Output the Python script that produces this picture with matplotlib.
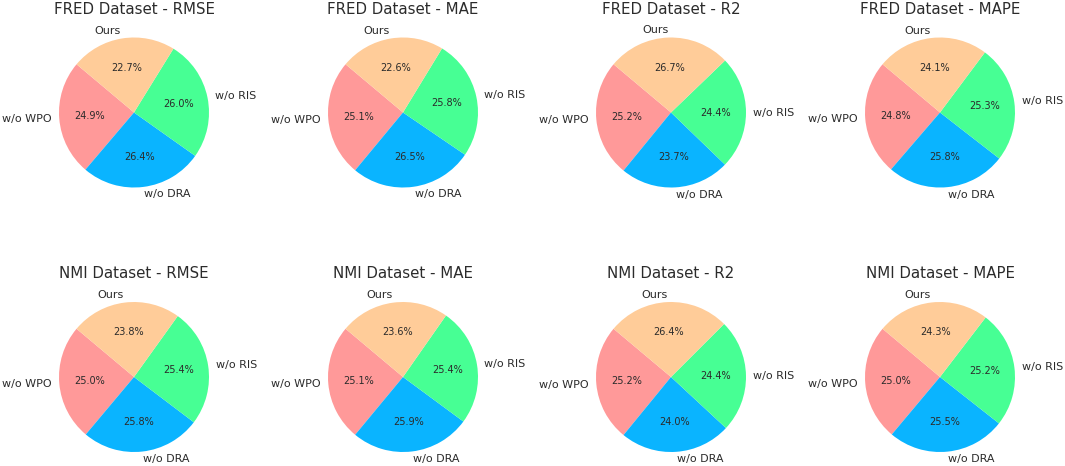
import matplotlib
matplotlib.use("Agg")
import matplotlib.pyplot as plt

labels = ["w/o WPO", "w/o DRA", "w/o RIS", "Ours"]
colors = ["#ff9999", "#0ab4ff", "#47ff94", "#ffcc99"]

datasets = ["FRED", "NMI"]
metrics = ["RMSE", "MAE", "R2", "MAPE"]

fred_rmse = [24.9, 26.4, 26.0, 22.7]
fred_mae = [25.1, 26.5, 25.8, 22.6]
fred_r2 = [25.2, 23.7, 24.4, 26.7]
fred_mape = [24.8, 25.8, 25.3, 24.1]
nmi_rmse = [25.0, 25.8, 25.4, 23.8]
nmi_mae = [25.1, 25.9, 25.4, 23.6]
nmi_r2 = [25.2, 24.0, 24.4, 26.4]
nmi_mape = [25.0, 25.5, 25.2, 24.3]

values = {
    ("FRED", "RMSE"): fred_rmse, ("FRED", "MAE"): fred_mae,
    ("FRED", "R2"): fred_r2, ("FRED", "MAPE"): fred_mape,
    ("NMI", "RMSE"): nmi_rmse, ("NMI", "MAE"): nmi_mae,
    ("NMI", "R2"): nmi_r2, ("NMI", "MAPE"): nmi_mape,
}

W, H = 1065, 466
fig = plt.figure(figsize=(W / 100, H / 100), dpi=100)
text_color = "#2b2b2b"

col_centers = [134, 403, 671, 940]
row_centers = [112.5, 377]
r_px = 75
half = 1.25 * r_px

for i, ds in enumerate(datasets):
    for j, m in enumerate(metrics):
        cx, cy = col_centers[j], row_centers[i]
        ax = fig.add_axes([(cx - half) / W, 1 - (cy + half) / H, 2 * half / W, 2 * half / H])
        wedges, texts, autotexts = ax.pie(
            values[(ds, m)], labels=labels, colors=colors, autopct="%1.1f%%",
            startangle=140, textprops={"fontsize": 8, "color": text_color},
        )
        for t in autotexts:
            t.set_fontsize(7)
        ax.set_title(f"{ds} Dataset - {m}", fontsize=10.8, color=text_color, pad=3.5)
        ax.set_aspect("equal")

fig.savefig("out.png", dpi=100)
